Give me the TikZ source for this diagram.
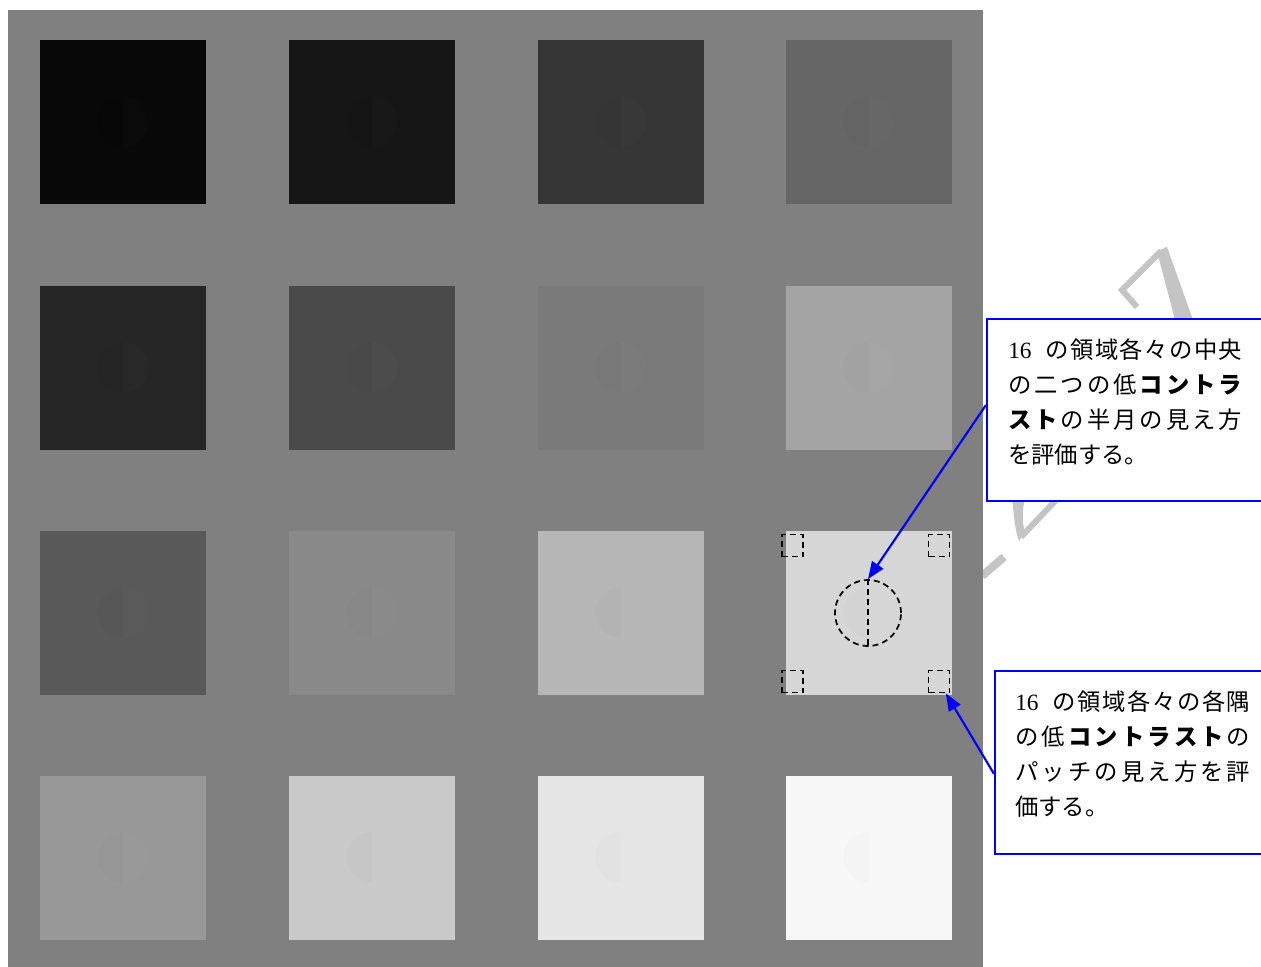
\documentclass[tikz,border=0pt]{standalone}
\usepackage{fontspec}
\setmainfont{Liberation Serif}
\newfontfamily\jp{Noto Sans CJK JP}
\usetikzlibrary{arrows.meta}
\newcommand\J[1]{{\jp #1}}
\newcommand\JB[1]{{\jp\bfseries #1}}
\definecolor{bggray}{RGB}{128,128,128}
\definecolor{wmgray}{RGB}{196,196,196}
\definecolor{callblue}{RGB}{0,0,255}
\begin{document}
\begin{tikzpicture}[x=0.75pt,y=-0.75pt,
  sq/.style={draw=none,inner sep=0pt,minimum width=124.5pt,minimum height=123pt},
  dashline/.style={draw=black,line width=1.3pt,dash pattern=on 4.5pt off 3pt},
  patch/.style={dashline,inner sep=0pt,minimum width=15.75pt,minimum height=16.5pt},
  moonc/.style={dashline,circle,inner sep=0pt,minimum size=49.5pt},
  callout/.style={draw=callblue,line width=1.4pt,fill=white,inner sep=0pt,anchor=north west},
  arr/.style={draw=callblue,line width=1.6pt,-{Triangle[length=13pt,width=10pt]}},
  txt/.style={inner sep=0pt,anchor=base west,font=\fontsize{17.5pt}{26pt}\selectfont},
  wm/.style={fill=wmgray,draw=none},
  wml/.style={draw=wmgray,line width=4.5pt}]
\useasboundingbox (0,0) rectangle (1261,967);
\clip (0,0) rectangle (1261,967);
\fill[white] (0,0) rectangle (1261,967);
% faint watermark
\draw[wml] (1137,307) -- (1122,290) -- (1161,251);
\fill[wm] (1157,251) -- (1167,247) -- (1193,320) -- (1175,320) -- cycle;
\fill[wm] (1012,498) -- (1025,498) .. controls (1022,512) and (1022,522) .. (1025,532) -- (1019,541) .. controls (1014,528) and (1014,512) .. (1012,498) -- cycle;
\draw[wml] (1021,537) -- (1057,499);
\draw[wml,line width=6pt] (982,576) -- (1004,557);
% gray image background
\fill[bggray] (8,10) rectangle (983,967);
% 16 squares
\foreach \cx/\cy/\g/\nm in {
  123/122/8/s11, 372/122/22/s12, 620.5/122/54/s13, 868.5/122/102/s14,
  123/367.5/38/s21, 372/367.5/74/s22, 620.5/367.5/122/s23, 868.5/367.5/164/s24,
  123/612.5/89/s31, 372/612.5/137/s32, 620.5/612.5/182/s33, 868.5/612.5/214/s34,
  123/857.5/152/s41, 372/857.5/201/s42, 620.5/857.5/229/s43, 868.5/857.5/247/s44}{
  \definecolor{sqc}{RGB}{\g,\g,\g}
  \node[sq,fill=sqc] (\nm) at (\cx,\cy) {};
  \begin{scope}
    \clip (\cx-30,\cy-30) rectangle (\cx,\cy+30);
    \fill[black,opacity=0.012] (\cx,\cy) circle[radius=19pt];
  \end{scope}
  \begin{scope}
    \clip (\cx,\cy-30) rectangle (\cx+30,\cy+30);
    \fill[white,opacity=0.012] (\cx,\cy) circle[radius=19pt];
  \end{scope}
}
% marks on the highlighted square
\node[patch] (pTL) at (792.5,545.5) {};
\node[patch] (pTR) at (939,545.5) {};
\node[patch] (pBL) at (792.5,681.5) {};
\node[patch] (pBR) at (939,681.5) {};
\node[moonc] (moon) at (868,613) {};
\draw[dashline] (moon.north) -- (moon.south);
% callout boxes
\node[callout,minimum width=216.75pt,minimum height=136.5pt] (box1) at (986,318) {};
\node[callout,minimum width=210.75pt,minimum height=137.25pt] (box2) at (994,670) {};
% text of box 1
\node[txt] (t11) at (1008,358) {\makebox[175.5pt][s]{16\hspace{9.5pt}\hfill\J{の}\hfill\J{領}\hfill\J{域}\hfill\J{各}\hfill\J{々}\hfill\J{の}\hfill\J{中}\hfill\J{央}}};
\node[txt] (t12) at (1008,393) {\makebox[175.5pt][s]{\J{の}\hfill\J{二}\hfill\J{つ}\hfill\J{の}\hfill\J{低}\hfill\JB{コ}\hfill\JB{ン}\hfill\JB{ト}\hfill\JB{ラ}}};
\node[txt] (t13) at (1008,428) {\makebox[175.5pt][s]{\JB{ス}\hfill\JB{ト}\hfill\J{の}\hfill\J{半}\hfill\J{月}\hfill\J{の}\hfill\J{見}\hfill\J{え}\hfill\J{方}}};
\node[txt] (t14) at (1008,463) {\J{を評価する。}};
% text of box 2
\node[txt] (t21) at (1015,710) {\makebox[176.25pt][s]{16\hspace{9.5pt}\hfill\J{の}\hfill\J{領}\hfill\J{域}\hfill\J{各}\hfill\J{々}\hfill\J{の}\hfill\J{各}\hfill\J{隅}}};
\node[txt] (t22) at (1015,745) {\makebox[176.25pt][s]{\J{の}\hfill\J{低}\hfill\JB{コ}\hfill\JB{ン}\hfill\JB{ト}\hfill\JB{ラ}\hfill\JB{ス}\hfill\JB{ト}\hfill\J{の}}};
\node[txt] (t23) at (1015,780) {\makebox[176.25pt][s]{\J{パ}\hfill\J{ッ}\hfill\J{チ}\hfill\J{の}\hfill\J{見}\hfill\J{え}\hfill\J{方}\hfill\J{を}\hfill\J{評}}};
\node[txt] (t24) at (1015,815) {\J{価する。}};
% connectors
\draw[arr] ([yshift=3.75pt]box1.west) -- (moon.north);
\draw[arr] ([yshift=-8.6pt]box2.west) -- (pBR.300);
\end{tikzpicture}
\end{document}
